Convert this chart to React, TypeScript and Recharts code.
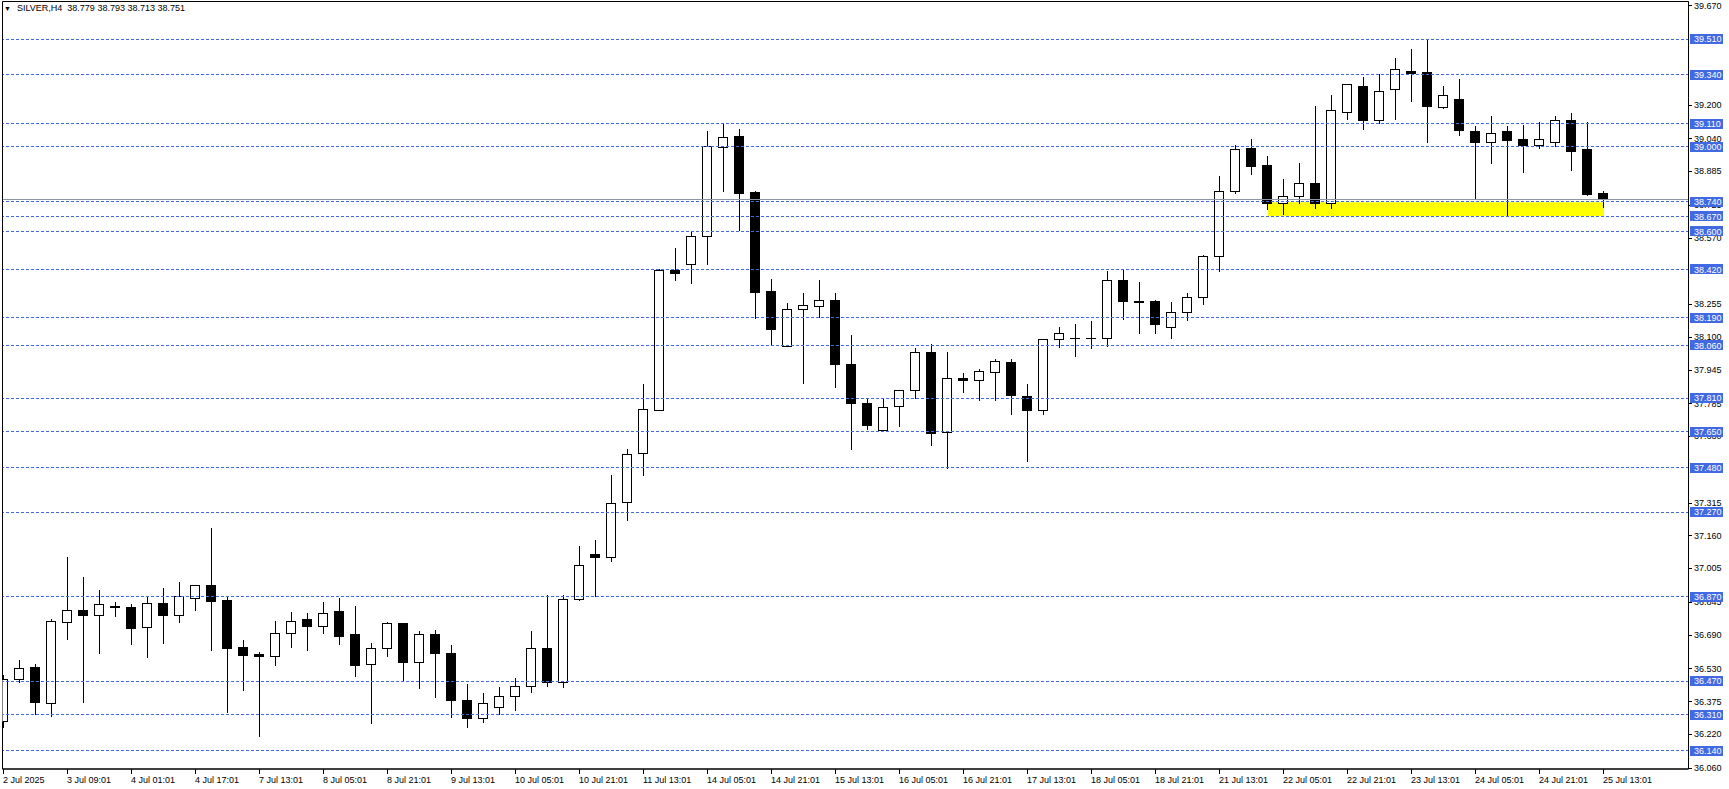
import React from "react";
import { ComposedChart, Bar, XAxis, YAxis, ReferenceLine, ReferenceArea } from "recharts";

// ---- data (SILVER, H4) ----
const timeTickLabels = [
  "2 Jul 2025", "3 Jul 09:01", "4 Jul 01:01", "4 Jul 17:01", "7 Jul 13:01", "8 Jul 05:01",
  "8 Jul 21:01", "9 Jul 13:01", "10 Jul 05:01", "10 Jul 21:01", "11 Jul 13:01", "14 Jul 05:01",
  "14 Jul 21:01", "15 Jul 13:01", "16 Jul 05:01", "16 Jul 21:01", "17 Jul 13:01", "18 Jul 05:01",
  "18 Jul 21:01", "21 Jul 13:01", "22 Jul 05:01", "22 Jul 21:01", "23 Jul 13:01", "24 Jul 05:01",
  "24 Jul 21:01", "25 Jul 13:01",
];

const opens = [
  36.283, 36.482, 36.535, 36.366, 36.752, 36.809, 36.785, 36.828, 36.823, 36.727,
  36.842, 36.785, 36.866, 36.923, 36.853, 36.630, 36.597, 36.591, 36.700, 36.762,
  36.729, 36.801, 36.692, 36.553, 36.629, 36.743, 36.562, 36.695, 36.605, 36.379,
  36.295, 36.348, 36.401, 36.449, 36.629, 36.468, 36.857, 37.070, 37.056, 37.317,
  37.549, 37.756, 38.417, 38.444, 38.577, 39.001, 39.050, 38.784, 38.318, 38.057,
  38.232, 38.247, 38.275, 37.971, 37.786, 37.658, 37.772, 37.848, 38.028, 37.652,
  37.905, 37.895, 37.933, 37.981, 37.820, 37.756, 38.090, 38.095, 38.095, 38.095,
  38.370, 38.269, 38.272, 38.145, 38.218, 38.289, 38.484, 38.792, 38.996, 38.915,
  38.734, 38.768, 38.830, 38.735, 39.167, 39.287, 39.127, 39.274, 39.361, 39.353,
  39.189, 39.225, 39.074, 39.023, 39.074, 39.036, 39.009, 39.023, 39.126, 38.988,
  38.779,
];
const highs = [
  36.501, 36.569, 36.553, 36.766, 37.057, 36.962, 36.901, 36.844, 36.834, 36.868,
  36.910, 36.939, 36.925, 37.195, 36.871, 36.667, 36.610, 36.757, 36.797, 36.792,
  36.844, 36.863, 36.825, 36.649, 36.752, 36.745, 36.709, 36.714, 36.640, 36.455,
  36.412, 36.441, 36.483, 36.706, 36.876, 36.876, 37.110, 37.138, 37.446, 37.570,
  37.878, 38.422, 38.519, 38.602, 39.074, 39.113, 39.083, 38.789, 38.372, 38.262,
  38.310, 38.367, 38.310, 38.111, 37.807, 37.807, 37.850, 38.047, 38.066, 38.030,
  37.929, 37.949, 37.997, 37.997, 37.876, 38.092, 38.148, 38.163, 38.177, 38.414,
  38.422, 38.362, 38.275, 38.267, 38.310, 38.486, 38.863, 39.010, 39.036, 38.958,
  38.846, 38.922, 39.192, 39.244, 39.297, 39.330, 39.344, 39.420, 39.463, 39.508,
  39.287, 39.320, 39.097, 39.145, 39.097, 39.102, 39.116, 39.145, 39.159, 39.116,
  38.793,
];
const lows = [
  36.251, 36.466, 36.314, 36.305, 36.670, 36.371, 36.604, 36.779, 36.646, 36.585,
  36.651, 36.751, 36.807, 36.618, 36.324, 36.428, 36.211, 36.547, 36.632, 36.618,
  36.698, 36.646, 36.494, 36.272, 36.589, 36.472, 36.438, 36.395, 36.300, 36.253,
  36.275, 36.314, 36.333, 36.419, 36.447, 36.442, 36.855, 36.874, 37.038, 37.235,
  37.448, 37.752, 38.367, 38.357, 38.447, 38.791, 38.604, 38.188, 38.060, 38.055,
  37.880, 38.196, 37.861, 37.567, 37.666, 37.656, 37.680, 37.810, 37.590, 37.478,
  37.837, 37.799, 37.799, 37.737, 37.514, 37.733, 38.050, 38.008, 38.046, 38.055,
  38.185, 38.120, 38.120, 38.095, 38.180, 38.254, 38.413, 38.781, 38.871, 38.705,
  38.681, 38.734, 38.710, 38.710, 39.132, 39.083, 39.112, 39.131, 39.216, 39.021,
  39.184, 39.056, 38.751, 38.923, 38.672, 38.881, 38.996, 39.004, 38.890, 38.771,
  38.713,
];
const closes = [
  36.482, 36.534, 36.371, 36.757, 36.809, 36.784, 36.833, 36.822, 36.722, 36.842,
  36.784, 36.871, 36.923, 36.850, 36.627, 36.594, 36.591, 36.700, 36.757, 36.732,
  36.795, 36.684, 36.547, 36.629, 36.743, 36.561, 36.695, 36.604, 36.381, 36.295,
  36.368, 36.401, 36.449, 36.629, 36.466, 36.857, 37.018, 37.059, 37.312, 37.544,
  37.758, 38.417, 38.402, 38.579, 39.006, 39.044, 38.781, 38.311, 38.136, 38.232,
  38.251, 38.275, 37.970, 37.785, 37.682, 37.767, 37.848, 38.028, 37.647, 37.905,
  37.894, 37.938, 37.986, 37.823, 37.756, 38.090, 38.118, 38.096, 38.096, 38.370,
  38.269, 38.264, 38.163, 38.218, 38.289, 38.484, 38.792, 38.991, 38.909, 38.734,
  38.768, 38.830, 38.734, 39.172, 39.295, 39.127, 39.266, 39.366, 39.350, 39.194,
  39.243, 39.080, 39.023, 39.067, 39.032, 39.009, 39.039, 39.129, 38.980, 38.776,
  38.751,
];

// plain price-scale labels that are visible (fully or partly) in the picture
const priceTicks = [
  39.670, 39.200, 39.040, 38.885, 38.725, 38.570, 38.255,
  38.100, 37.945, 37.785, 37.630, 37.315, 37.160, 37.005, 36.845, 36.690,
  36.530, 36.375, 36.220, 36.060,
];
const levelPrices = [
  39.510, 39.340, 39.110, 39.000, 38.740, 38.670, 38.600, 38.420, 38.190, 38.060,
  37.810, 37.650, 37.480, 37.270, 36.870, 36.470, 36.310, 36.140,
];
const bidPrice = 38.751;
const zoneBars = [79, 100];
const zonePrices = [38.672, 38.737];
const titleText = "SILVER,H4  38.779 38.793 38.713 38.751";

// ---- chart table ----
const data = opens.map((o, i) => ({
  i,
  o,
  h: highs[i],
  l: lows[i],
  c: closes[i],
  range: [lows[i], highs[i]],
}));
const xTicks = timeTickLabels.map((_, n) => n * 4);
const yTicks = [...priceTicks, ...levelPrices];

const X_DOMAIN: [number, number] = [-0.09375, 105.28125];
const Y_DOMAIN: [number, number] = [36.0541, 39.6879];

const FONT = "'Liberation Sans', Arial, sans-serif";
const BLUE = "#4169E1";

const Candle = (props: any) => {
  const { x, width, payload } = props;
  let { y, height } = props;
  if (!payload || height == null) return null;
  if (height < 0) {
    y += height;
    height = -height;
  }
  const { o, h, l, c } = payload;
  const k = height / (h - l);
  const py = (p: number) => y + (h - p) * k;
  const cx = Math.floor(x + width / 2);
  const wx = cx + 0.5;
  const yH = Math.round(py(h));
  const yL = Math.round(py(l));
  const top = Math.round(py(Math.max(o, c)));
  const bot = Math.round(py(Math.min(o, c)));
  const bull = c >= o;
  return (
    <g shapeRendering="crispEdges">
      <line x1={wx} x2={wx} y1={yH} y2={yL + 1} stroke="#000" strokeWidth={1} />
      {bot - top < 1 ? (
        <line x1={cx - 5} x2={cx + 5} y1={top + 0.5} y2={top + 0.5} stroke="#000" strokeWidth={1} />
      ) : (
        <rect
          x={cx - 4.5}
          y={top + 0.5}
          width={9}
          height={bot - top}
          fill={bull ? "#fff" : "#000"}
          stroke="#000"
          strokeWidth={1}
        />
      )}
    </g>
  );
};

const PriceTick = (props: any) => {
  const { x, y, payload } = props;
  const v = payload.value as number;
  const isLevel = levelPrices.includes(v);
  const ax = Math.floor(x);
  const ry = Math.round(y);
  if (isLevel) {
    return (
      <g>
        <rect x={ax + 2} y={ry - 5} width={33} height={10} fill={BLUE} shapeRendering="crispEdges" />
        <text x={ax + 6} y={y + 3.3} fill="#fff" fontSize={9} fontFamily={FONT}>
          {v.toFixed(3)}
        </text>
      </g>
    );
  }
  return (
    <g>
      <line x1={ax} x2={ax + 4} y1={ry + 0.5} y2={ry + 0.5} stroke="#000" shapeRendering="crispEdges" />
      <text x={ax + 6} y={y + 3.3} fill="#000" fontSize={9} fontFamily={FONT}>
        {v.toFixed(3)}
      </text>
    </g>
  );
};

const TimeTick = (props: any) => {
  const { x, y, payload } = props;
  const lbl = timeTickLabels[Math.round(payload.value / 4)];
  const tx = Math.floor(x - 0.5) + 0.5;
  return (
    <g>
      <line x1={tx} x2={tx} y1={y} y2={y + 5} stroke="#000" shapeRendering="crispEdges" />
      <text x={tx - 0.5} y={y + 14} fill="#000" fontSize={9} fontFamily={FONT}>
        {lbl}
      </text>
    </g>
  );
};

export default function App() {
  return (
    <div
      style={{
        position: "absolute",
        left: 0,
        top: 0,
        width: 1729,
        height: 789,
        background: "#fff",
        fontFamily: FONT,
      }}
    >
      <ComposedChart
        width={1729}
        height={789}
        data={data}
        margin={{ top: 1.5, right: 0, bottom: 0, left: 2.5 }}
      >
        <XAxis
          dataKey="i"
          type="number"
          domain={X_DOMAIN}
          allowDataOverflow
          ticks={xTicks}
          interval={0}
          tick={<TimeTick />}
          tickLine={false}
          tickSize={0}
          tickMargin={0}
          axisLine={{ stroke: "#000" }}
          height={20}
        />
        <YAxis
          orientation="right"
          type="number"
          domain={Y_DOMAIN}
          allowDataOverflow
          ticks={yTicks}
          interval={0}
          tick={<PriceTick />}
          tickLine={false}
          tickSize={0}
          tickMargin={0}
          axisLine={{ stroke: "#000" }}
          width={40.5}
        />
        <ReferenceArea
          x1={zoneBars[0]}
          x2={zoneBars[1]}
          y1={zonePrices[0]}
          y2={zonePrices[1]}
          fill="#FFFF00"
          fillOpacity={1}
          stroke="none"
          ifOverflow="visible"
        />
        {levelPrices.map((p) => (
          <ReferenceLine
            key={p}
            y={p}
            stroke={BLUE}
            strokeDasharray="3 2"
            strokeWidth={1}
            shapeRendering="crispEdges"
          />
        ))}
        <ReferenceLine y={bidPrice} stroke="#8A96A3" strokeWidth={1} shapeRendering="crispEdges" />
        <Bar
          dataKey="range"
          barSize={11}
          isAnimationActive={false}
          shape={(p: any) => <Candle {...p} />}
        />
        <ReferenceArea
          x1={X_DOMAIN[0]}
          x2={X_DOMAIN[1]}
          y1={Y_DOMAIN[0]}
          y2={Y_DOMAIN[1]}
          fill="none"
          stroke="#000"
          ifOverflow="visible"
        />
      </ComposedChart>
      <div
        style={{
          position: "absolute",
          left: 4,
          top: 4,
          fontSize: 7,
          lineHeight: "9px",
          color: "#000",
        }}
      >
        ▼
      </div>
      <div
        style={{
          position: "absolute",
          left: 17,
          top: 3,
          fontSize: 9,
          lineHeight: "11px",
          color: "#000",
          whiteSpace: "pre",
        }}
      >
        {titleText}
      </div>
    </div>
  );
}
